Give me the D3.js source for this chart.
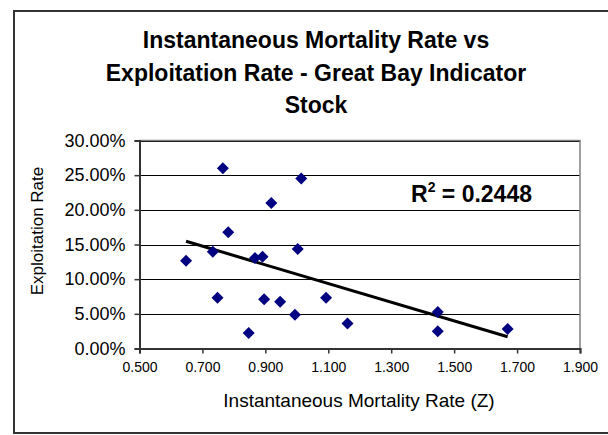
<!DOCTYPE html>
<html>
<head>
<meta charset="utf-8">
<script src="https://cdn.jsdelivr.net/npm/d3@7"></script>
<style>
  html, body { margin: 0; padding: 0; background: #fff; }
  svg { display: block; }
  text { font-family: "Liberation Sans", Arial, sans-serif; fill: #000; }
</style>
</head>
<body>
<svg id="chart" width="608" height="435"></svg>
<script>
// ---- Data ----
const mortalityZ = [0.648, 0.733, 0.782, 0.765, 0.748, 0.847, 0.867, 0.891, 0.896, 0.919,
                    0.947, 0.994, 1.003, 1.014, 1.093, 1.161, 1.448, 1.448, 1.670];
const exploitationRate = [0.1266, 0.1396, 0.1675, 0.2600, 0.0733, 0.0225, 0.1305, 0.1324, 0.0710, 0.2100,
                          0.0676, 0.0488, 0.1435, 0.2453, 0.0733, 0.0359, 0.0527, 0.0249, 0.0282];
const xTicks = [0.5, 0.7, 0.9, 1.1, 1.3, 1.5, 1.7, 1.9];
const yTicks = [0, 0.05, 0.10, 0.15, 0.20, 0.25, 0.30];
const titleLines = ["Instantaneous Mortality Rate vs", "Exploitation Rate - Great Bay Indicator", "Stock"];
const xTitle = "Instantaneous Mortality Rate (Z)";
const yTitle = "Exploitation Rate";
const r2Text = "0.2448";

const svg = d3.select("#chart");

// chart area border
svg.append("rect").attr("x", 14).attr("y", 11).attr("width", 596).attr("height", 422)
  .attr("fill", "#fff").attr("stroke", "#333").attr("stroke-width", 2);

const x = d3.scaleLinear().domain([0.5, 1.9]).range([139.5, 580]);
const y = d3.scaleLinear().domain([0, 0.30]).range([348.5, 140.5]);

// gridlines
svg.append("g").selectAll("line").data(yTicks.filter(d => d > 0)).join("line")
  .attr("x1", x(0.5)).attr("x2", x(1.9))
  .attr("y1", d => Math.round(y(d)) + 0.5).attr("y2", d => Math.round(y(d)) + 0.5)
  .attr("stroke", "#000").attr("stroke-width", 1);

// plot area border (top/right gray)
svg.append("path")
  .attr("d", `M${x(0.5)},${y(0.30)}H${x(1.9)}V${y(0)}`)
  .attr("fill", "none").attr("stroke", "#808080").attr("stroke-width", 1.5);

// axes
const yAxis = d3.axisLeft(y).tickValues(yTicks).tickFormat(d3.format(".2%")).tickSize(5).tickPadding(9);
const gy = svg.append("g").attr("transform", `translate(${x(0.5)},0)`).call(yAxis);
gy.select(".domain").attr("stroke", "#333").attr("stroke-width", 2);
gy.selectAll(".tick line").attr("stroke", "#333").attr("stroke-width", 1.5);
gy.selectAll(".tick text").attr("font-size", 18).attr("font-family", "Liberation Sans, Arial, sans-serif").attr("fill", "#000");

const xAxis = d3.axisBottom(x).tickValues(xTicks).tickFormat(d3.format(".3f")).tickSize(5).tickPadding(9);
const gx = svg.append("g").attr("transform", `translate(0,${y(0)})`).call(xAxis);
gx.select(".domain").attr("stroke", "#333").attr("stroke-width", 2);
gx.selectAll(".tick line").attr("stroke", "#333").attr("stroke-width", 1.5);
gx.selectAll(".tick text").attr("font-size", 14).attr("font-family", "Liberation Sans, Arial, sans-serif").attr("fill", "#000");

// trend line (least squares)
const pts = mortalityZ.map((v, i) => [v, exploitationRate[i]]);
const mx = d3.mean(mortalityZ), my = d3.mean(exploitationRate);
const slope = d3.sum(pts, p => (p[0] - mx) * (p[1] - my)) / d3.sum(pts, p => (p[0] - mx) ** 2);
const icpt = my - slope * mx;
const x0 = d3.min(mortalityZ), x1 = d3.max(mortalityZ);
svg.append("line")
  .attr("x1", x(x0)).attr("y1", y(icpt + slope * x0))
  .attr("x2", x(x1)).attr("y2", y(icpt + slope * x1))
  .attr("stroke", "#000").attr("stroke-width", 3);

// markers
const diamond = d3.symbol().type(d3.symbolSquare).size(72);
svg.append("g").selectAll("path").data(pts).join("path")
  .attr("d", diamond)
  .attr("transform", d => `translate(${x(d[0])},${y(d[1])}) rotate(45)`)
  .attr("fill", "#000080");

// title
svg.append("g").selectAll("text").data(titleLines).join("text")
  .attr("x", 316).attr("y", (d, i) => 48 + i * 32.6)
  .attr("text-anchor", "middle").attr("font-weight", "bold").attr("font-size", 23)
  .text(d => d);

// axis titles
svg.append("text").attr("x", 359).attr("y", 407).attr("text-anchor", "middle")
  .attr("font-size", 19).text(xTitle);
svg.append("text").attr("transform", "translate(43,231) rotate(-90)").attr("text-anchor", "middle")
  .attr("font-size", 17).text(yTitle);

// R^2 label
const r2 = svg.append("text").attr("x", 411).attr("y", 202).attr("font-weight", "bold").attr("font-size", 23);
r2.append("tspan").text("R");
r2.append("tspan").attr("font-size", 14).attr("dy", -10).text("2");
r2.append("tspan").attr("dy", 10).text(" = " + r2Text);
</script>
</body>
</html>
